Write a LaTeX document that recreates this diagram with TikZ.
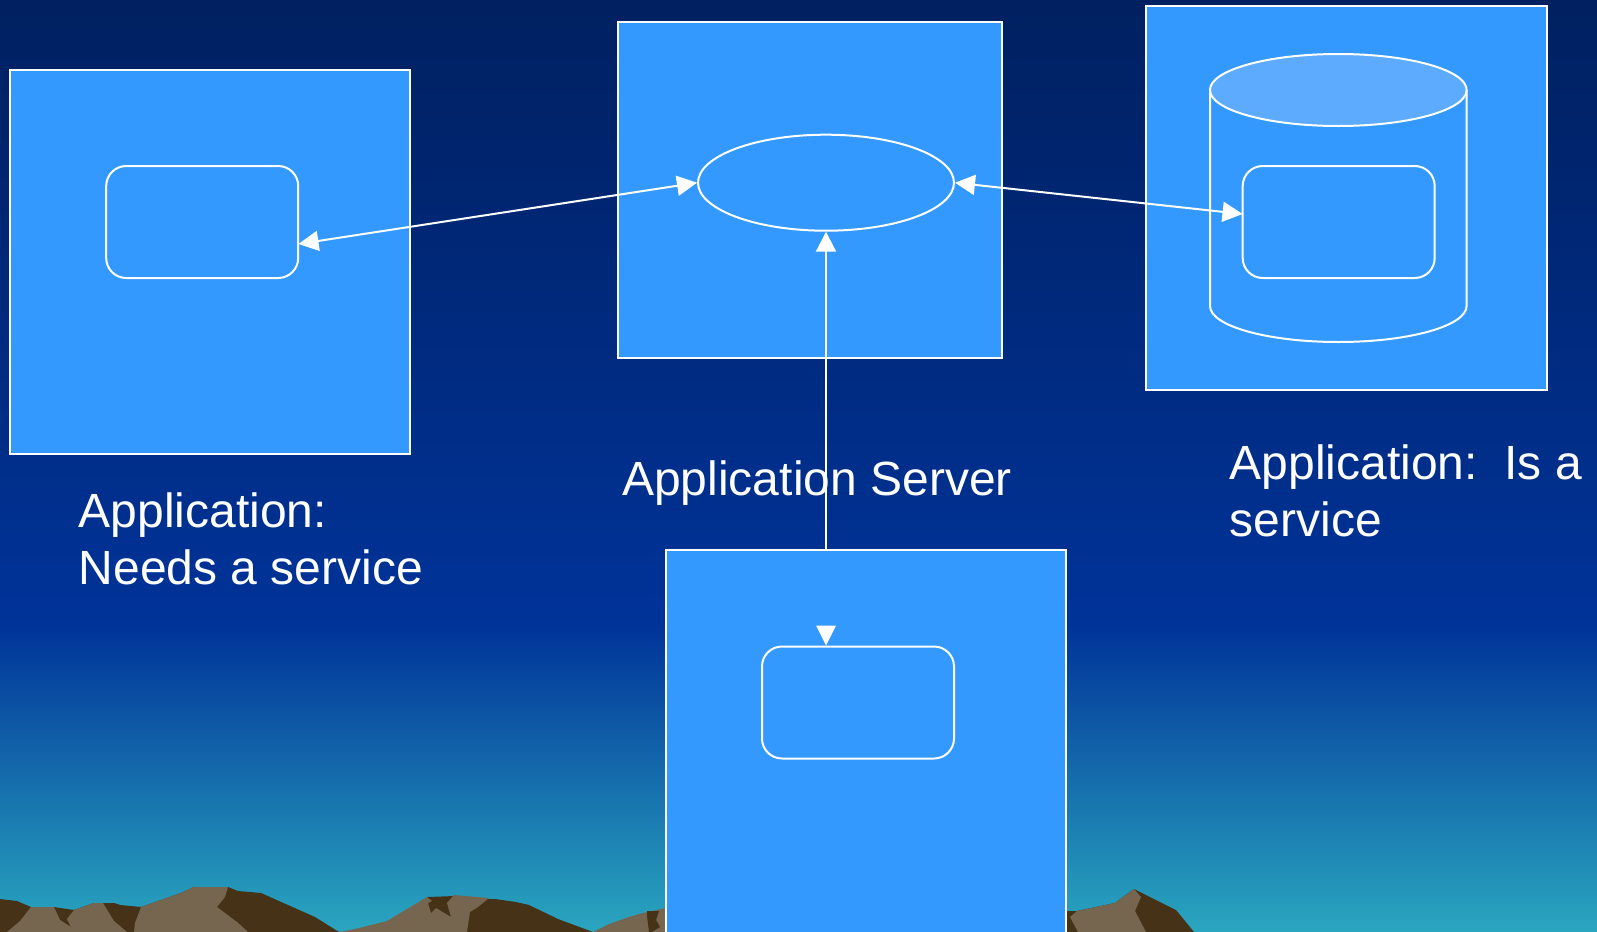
\documentclass[tikz,border=0pt]{standalone}
\usepackage{fontspec}
\setmainfont{Liberation Sans}
\usetikzlibrary{arrows.meta,shapes.geometric}
\definecolor{skytop}{HTML}{002060}
\definecolor{skymid}{HTML}{003399}
\definecolor{skybot}{HTML}{2AA6BF}
\definecolor{panel}{HTML}{3399FF}
\definecolor{lid}{HTML}{5CABFF}
\definecolor{rockdark}{HTML}{463317}
\definecolor{rocklight}{HTML}{766650}
\tikzset{
  panelbox/.style={draw=white,fill=panel,line width=1.5pt,inner sep=0pt},
  slot/.style={draw=white,fill=panel,line width=1.5pt,rounded corners=15pt,inner sep=0pt,minimum width=144pt,minimum height=84pt},
  hub/.style={draw=white,fill=panel,line width=1.5pt,ellipse,inner sep=0pt,minimum width=192pt,minimum height=72pt},
  link/.style={draw=white,line width=1.5pt,{Triangle[length=15pt,width=15pt,fill=white]}-{Triangle[length=15pt,width=15pt,fill=white]}},
  uplink/.style={draw=white,line width=1.5pt,{Triangle[length=15pt,width=15pt,fill=white]}-},
  caption/.style={text=white,font=\fontsize{36pt}{43.5pt}\selectfont,inner sep=0pt,anchor=base west},
  dark/.style={fill=rockdark,draw=none},
  light/.style={fill=rocklight,draw=none}
}
\begin{document}
\begin{tikzpicture}[x=0.75pt,y=-0.75pt]
\useasboundingbox (0,0) rectangle (1597,932);
% sky
\shade[top color=skytop,bottom color=skymid,draw=none] (0,0) rectangle (1597,625);
\shade[top color=skymid,bottom color=skybot,draw=none] (0,624.5) rectangle (1597,932);
% mountains
\fill[dark] (0,899)--(17,901)--(31,907)--(54,907)--(74,910)--(94,903)--(114,903)--(120.5,905)--(141,907)--(161,900)--(181,893)--(194,887)--(228,887)--(238,891)--(261,893)--(315,917)--(339,932)--(0,932)--cycle;
\fill[light] (7,932)--(20,921)--(31,907)--(54,907)--(60,920)--(71,927)--(67,919)--(74,910)--(94,903)--(103,903)--(114,921)--(127,932)--cycle;
\fill[light] (134,932)--(135,923)--(141,907)--(161,900)--(181,893)--(194,887)--(228,887)--(225,897)--(217,907)--(237,922)--(248,932)--cycle;
\fill[dark] (427,897)--(455,896)--(478,899)--(495,899)--(516,902)--(529,905)--(558,919)--(593,932)--(428,932)--cycle;
\fill[light] (339,932)--(355,929)--(387,921)--(427,897)--(432,901)--(428,903)--(431,913)--(436,908)--(451,917)--(447,903)--(454,895)--(489,898)--(478,907)--(470,912)--(467,932)--cycle;
\fill[light] (593,932)--(609,924)--(629,917)--(643,913)--(666,908)--(666,932)--cycle;
\fill[dark] (647,911)--(659,911)--(656,920)--(660,927)--(652,932)--(649,932)--(647,916)--cycle;
\fill[dark] (1066,911)--(1077,911)--(1115,903)--(1134,889)--(1176,910)--(1194,932)--(1066,932)--cycle;
\fill[light] (1070,917)--(1077,911)--(1115,903)--(1134,889)--(1141,897)--(1135,911)--(1146,932)--(1078,932)--cycle;
% panels
\node[panelbox,minimum width=300pt,minimum height=287.5pt] (leftbox) at (210.35,262.1) {};
\node[panelbox,minimum width=288pt,minimum height=252pt] (midbox) at (810,190.4) {};
\node[panelbox,minimum width=300.75pt,minimum height=288pt] (rightbox) at (1346.5,198) {};
% left slot, hub
\node[slot] (needslot) at (202.2,222) {};
\node[hub] (hubnode) at (826,182.7) {};
% cylinder
\draw[draw=white,fill=panel,line width=1.5pt] (1210,90) -- (1210,306) arc[start angle=180,end angle=0,x radius=128.3,y radius=36] -- (1466.6,90);
\node[draw=white,fill=lid,line width=1.5pt,ellipse,inner sep=0pt,minimum width=192.5pt,minimum height=54pt] (cyltop) at (1338.3,90) {};
\node[slot] (isslot) at (1338.7,222) {};
% connectors
\coordinate (needend) at (298.5,244);
\coordinate (isend) at (1242.5,214);
\coordinate (lowtop) at (866,551);
\draw[link] (hubnode.west) -- (needend);
\draw[link] (hubnode.east) -- (isend);
\draw[uplink] (hubnode.south) -- (hubnode.south |- lowtop);
% lower panel hides the rising connector, its head stays on the slot
\node[panelbox,minimum width=299.5pt,minimum height=310pt] (lowbox) at (866,757) {};
\node[slot] (lowslot) at (858,702.5) {};
\coordinate (lowtip) at (hubnode.south |- lowslot.north);
\fill[white] (lowtip) -- ++(-10,-20) -- ++(20,0) -- cycle;
% captions
\node[caption] (cap1a) at (78.4,527.6) {Application:};
\node[caption] (cap1b) at (78.4,584.6) {Needs a service};
\node[caption] (cap2) at (622,495) {Application Server};
\node[caption] (cap3a) at (1229.5,479.7) {Application:\ \ Is a};
\node[caption] (cap3b) at (1229.5,536.8) {service};
\end{tikzpicture}
\end{document}
